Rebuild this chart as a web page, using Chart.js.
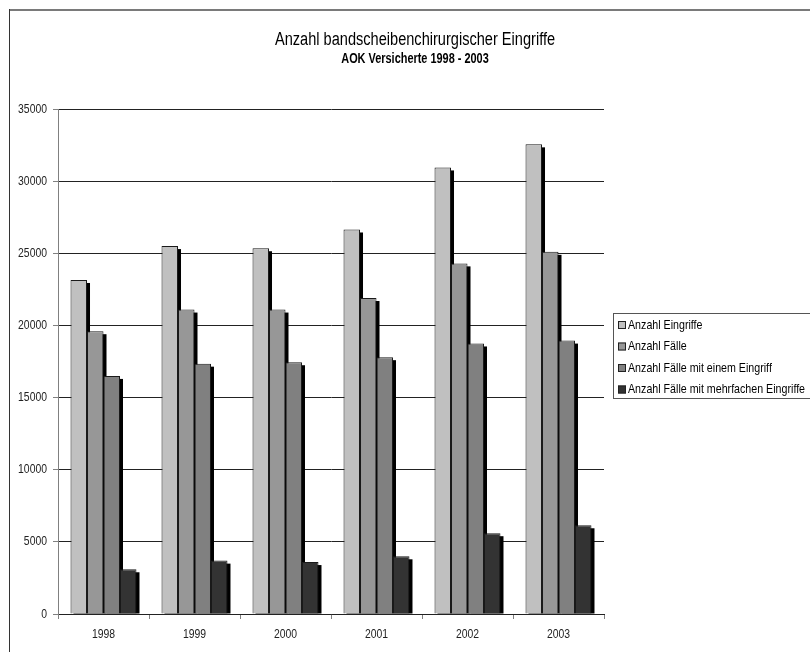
<!DOCTYPE html>
<html>
<head>
<meta charset="utf-8">
<script src="https://cdn.jsdelivr.net/npm/chart.js@4/dist/chart.umd.min.js"></script>
<style>
  html, body { margin: 0; padding: 0; background: #fff; }
  canvas { display: block; }
</style>
</head>
<body>
<canvas id="c" width="810" height="652"></canvas>
<script>
// Jahre und Werte je Reihe
const years = ['1998', '1999', '2000', '2001', '2002', '2003'];
const anzahlEingriffe = [23150, 25500, 25350, 26650, 30950, 32550];
const anzahlFaelle = [19600, 21100, 21100, 21900, 24300, 25100];
const faelleEinEingriff = [16500, 17350, 17450, 17800, 18750, 18950];
const faelleMehrfach = [3100, 3700, 3600, 4000, 5600, 6150];
const seriesLabels = [
  'Anzahl Eingriffe',
  'Anzahl Fälle',
  'Anzahl Fälle mit einem Eingriff',
  'Anzahl Fälle mit mehrfachen Eingriffe'
];
const yTicks = [0, 5000, 10000, 15000, 20000, 25000, 30000, 35000];

const FONT = '"Liberation Sans", Arial, sans-serif';
const colors = ['#c0c0c0', '#979797', '#808080', '#333333'];

// Text horizontal gestaucht zeichnen (schmal laufende Schrift)
function narrowText(ctx, text, x, y, align, sx) {
  ctx.save();
  ctx.translate(x, y);
  ctx.scale(sx, 1);
  ctx.textAlign = align;
  ctx.fillText(text, 0, 0);
  ctx.restore();
}

// Schlagschatten hinter den Säulen
const barShadow = {
  id: 'barShadow',
  beforeDatasetsDraw(chart) {
    const ctx = chart.ctx;
    const a = chart.chartArea;
    ctx.save();
    ctx.beginPath();
    ctx.rect(a.left, a.top - 5, a.right - a.left, a.bottom - a.top + 5);
    ctx.clip();
    ctx.fillStyle = '#000';
    chart.data.datasets.forEach((ds, i) => {
      chart.getDatasetMeta(i).data.forEach(el => {
        const p = el.getProps(['x', 'y', 'base', 'width'], true);
        const left = p.x - p.width / 2;
        ctx.fillRect(left + 3, p.y + 3, p.width, p.base - p.y - 3);
      });
    });
    ctx.restore();
  }
};

// Rahmen, Titel, Achsenbeschriftung und Legende
const decorations = {
  id: 'decorations',
  beforeDraw(chart) {
    const ctx = chart.ctx;
    ctx.save();
    ctx.fillStyle = '#fff';
    ctx.fillRect(0, 0, chart.width, chart.height);
    ctx.fillStyle = '#7a7a7a';
    ctx.fillRect(9, 9, chart.width - 9, 2);
    ctx.fillStyle = '#333';
    ctx.fillRect(9, 9, 1, chart.height - 9);
    ctx.restore();
  },
  afterDraw(chart) {
    const ctx = chart.ctx;
    ctx.save();
    ctx.fillStyle = '#000';
    ctx.textBaseline = 'middle';
    ctx.font = '18px ' + FONT;
    narrowText(ctx, 'Anzahl bandscheibenchirurgischer Eingriffe', 415, 40, 'center', 0.81);
    ctx.font = 'bold 14px ' + FONT;
    narrowText(ctx, 'AOK Versicherte 1998 - 2003', 415, 59, 'center', 0.78);

    // Achsenbeschriftungen
    ctx.fillStyle = '#222';
    ctx.font = '13px ' + FONT;
    const xs = chart.scales.x, ys = chart.scales.y;
    years.forEach((label, i) => {
      narrowText(ctx, label, xs.getPixelForTick(i), 634, 'center', 0.8);
    });
    yTicks.forEach(v => {
      narrowText(ctx, String(v), 47, ys.getPixelForValue(v), 'right', 0.8);
    });

    // Legende
    const bx = 613.5, by = 313.5;
    ctx.strokeStyle = '#555';
    ctx.lineWidth = 1;
    ctx.strokeRect(bx, by, 260, 85);
    ctx.font = '13.5px ' + FONT;
    chart.data.datasets.forEach((ds, i) => {
      const cy = 325 + i * 21.5;
      ctx.fillStyle = ds.backgroundColor;
      ctx.fillRect(618, cy - 4, 8, 8);
      ctx.strokeStyle = '#222';
      ctx.strokeRect(618.5, cy - 3.5, 7, 7);
      ctx.fillStyle = '#000';
      narrowText(ctx, ds.label, 628, cy, 'left', 0.79);
    });
    ctx.restore();
  }
};

const datasets = [anzahlEingriffe, anzahlFaelle, faelleEinEingriff, faelleMehrfach].map((values, i) => ({
  label: seriesLabels[i],
  data: values,
  backgroundColor: colors[i],
  borderColor: '#1a1a1a',
  borderWidth: 1,
  categoryPercentage: 0.725,
  barPercentage: 1.0
}));

new Chart(document.getElementById('c'), {
  type: 'bar',
  data: { labels: years, datasets },
  options: {
    responsive: false,
    animation: false,
    devicePixelRatio: 1,
    layout: { padding: { top: 109, right: 206, left: 0, bottom: 0 } },
    plugins: {
      legend: { display: false },
      title: { display: false },
      tooltip: { enabled: false }
    },
    scales: {
      x: {
        offset: true,
        grid: {
          offset: true,
          drawOnChartArea: true,
          color: (c) => (c.index === years.length ? '#555' : 'rgba(0,0,0,0)'),
          tickColor: '#808080',
          tickLength: 5
        },
        border: { color: '#222', width: 1 },
        ticks: { display: false },
        afterFit(scale) { scale.height = 38; }
      },
      y: {
        min: 0,
        max: 35000,
        afterBuildTicks(scale) { scale.ticks = yTicks.map(v => ({ value: v })); },
        grid: {
          color: '#222',
          tickColor: '#808080',
          tickLength: 5
        },
        border: { color: '#808080', width: 1 },
        ticks: { display: false },
        afterFit(scale) { scale.width = 58; }
      }
    }
  },
  plugins: [decorations, barShadow]
});
</script>
</body>
</html>
